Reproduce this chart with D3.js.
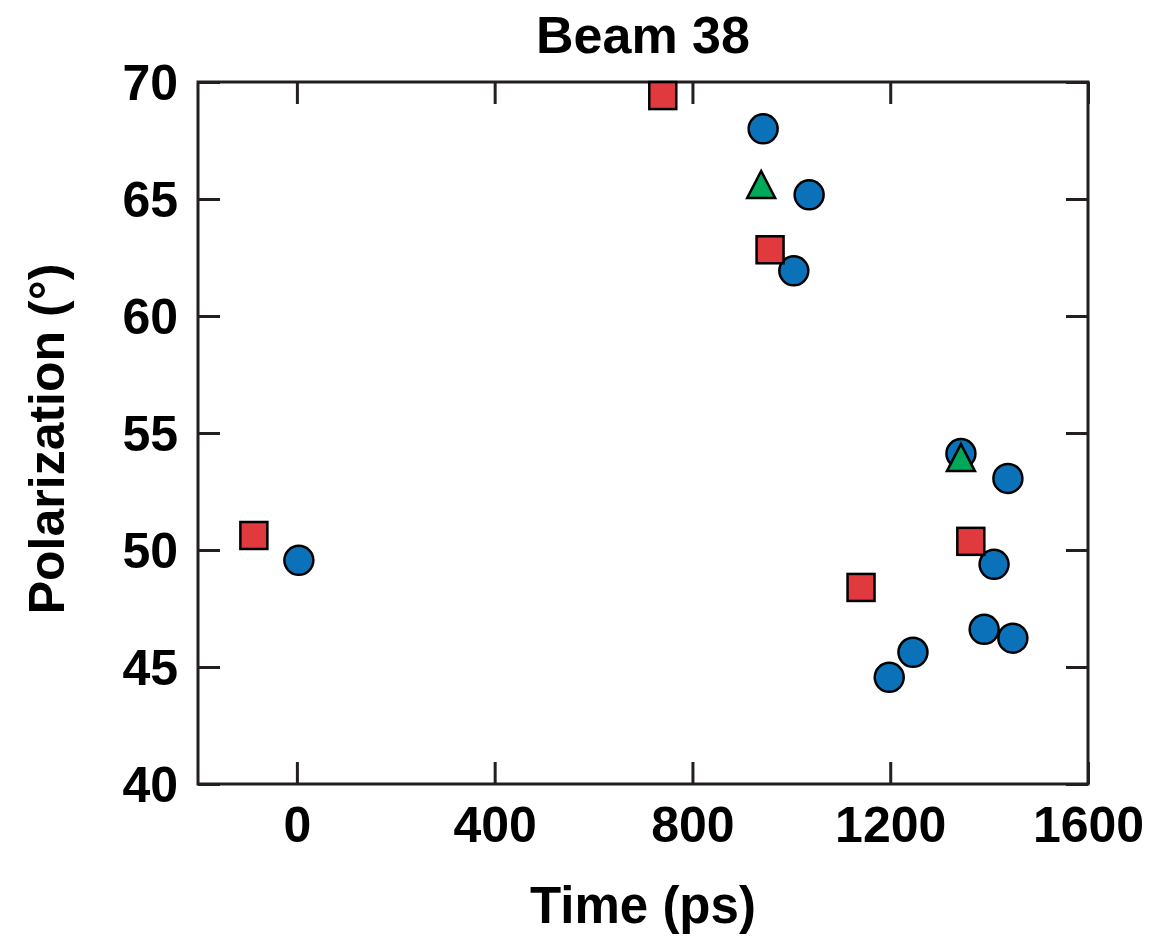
<!DOCTYPE html>
<html><head><meta charset="utf-8">
<script src="https://cdn.jsdelivr.net/npm/d3@7"></script>
<style>body{margin:0;background:#fff}svg{display:block}</style>
</head><body>
<svg id="c" width="1153" height="937"></svg>
<script>
const title = "Beam 38";
const xLabel = "Time (ps)";
const yLabel = "Polarization (°)";
const xTicks = [0, 400, 800, 1200, 1600];
const yTicks = [40, 45, 50, 55, 60, 65, 70];
const xDomain = [-200, 1600];
const yDomain = [40, 70];
// circles (blue)
const circleX = [4, 943, 1036, 1005, 1343, 1438, 1410, 1390, 1448, 1246, 1198];
const circleY = [49.56, 68.0, 65.18, 61.93, 54.12, 53.06, 49.39, 46.61, 46.23, 45.63, 44.56];
// squares (red)
const squareX = [-87, 740, 957, 1141, 1363];
const squareY = [50.62, 69.42, 62.83, 48.40, 50.37];
// triangles (green)
const triX = [939, 1343];
const triY = [65.62, 53.95];

const svg = d3.select("#c");
const L = 198, R = 1088, T = 82, B = 784;
const x = d3.scaleLinear().domain(xDomain).range([L, R]);
const y = d3.scaleLinear().domain(yDomain).range([B, T]);
const font = "'Liberation Sans', Arial, Helvetica, sans-serif";
const axisCol = "#231f20";
const tickLen = 22;

// frame
svg.append("rect").attr("x", L).attr("y", T).attr("width", R - L).attr("height", B - T)
  .attr("fill", "none").attr("stroke", axisCol).attr("stroke-width", 3);

// axes with inward ticks
const axB = d3.axisBottom(x).tickValues(xTicks).tickSize(-tickLen).tickPadding(22).tickFormat(d3.format("d"));
const axT = d3.axisTop(x).tickValues(xTicks).tickSize(-tickLen).tickFormat("");
const axL = d3.axisLeft(y).tickValues(yTicks).tickSize(-tickLen).tickPadding(20).tickFormat(d3.format("d"));
const axR = d3.axisRight(y).tickValues(yTicks).tickSize(-tickLen).tickFormat("");

function style(g) {
  g.select(".domain").remove();
  g.selectAll(".tick line").attr("stroke", axisCol).attr("stroke-width", 3);
  g.selectAll(".tick text").attr("fill", "#000").attr("font-family", font)
    .attr("font-weight", "bold").attr("font-size", 50);
}
svg.append("g").attr("transform", `translate(0,${B})`).call(axB).call(style)
  .selectAll(".tick text").attr("dy", "0.71em");
svg.append("g").attr("transform", `translate(0,${T})`).call(axT).call(style);
svg.append("g").attr("transform", `translate(${L},0)`).call(axL).call(style)
  .selectAll(".tick text").attr("dy", "0.35em");
svg.append("g").attr("transform", `translate(${R},0)`).call(axR).call(style);

// points
const circles = circleX.map((d, i) => ({x: d, y: circleY[i]}));
const squares = squareX.map((d, i) => ({x: d, y: squareY[i]}));
const tris = triX.map((d, i) => ({x: d, y: triY[i]}));

svg.append("g").selectAll("circle").data(circles).join("circle")
  .attr("cx", d => x(d.x)).attr("cy", d => y(d.y)).attr("r", 14.5)
  .attr("fill", "#0b72b9").attr("stroke", "#000").attr("stroke-width", 2.5);

const sq = 27;
svg.append("g").selectAll("rect").data(squares).join("rect")
  .attr("x", d => x(d.x) - sq / 2).attr("y", d => y(d.y) - sq / 2)
  .attr("width", sq).attr("height", sq)
  .attr("fill", "#e03a3e").attr("stroke", "#000").attr("stroke-width", 2.5);

const tw = 28, th = 27;
svg.append("g").selectAll("path").data(tris).join("path")
  .attr("d", d => {
    const cx = x(d.x), cy = y(d.y);
    return `M${cx},${cy - th / 2}L${cx + tw / 2},${cy + th / 2}L${cx - tw / 2},${cy + th / 2}Z`;
  })
  .attr("fill", "#00a85a").attr("stroke", "#000").attr("stroke-width", 2.5).attr("stroke-linejoin", "miter");

// texts
svg.append("text").attr("x", (L + R) / 2).attr("y", 53).attr("text-anchor", "middle")
  .attr("font-family", font).attr("font-weight", "bold").attr("font-size", 52).text(title);
svg.append("text").attr("x", (L + R) / 2).attr("y", 923).attr("text-anchor", "middle")
  .attr("font-family", font).attr("font-weight", "bold").attr("font-size", 51).text(xLabel);
svg.append("text").attr("transform", "translate(64,439) rotate(-90)").attr("text-anchor", "middle")
  .attr("font-family", font).attr("font-weight", "bold").attr("font-size", 50).text(yLabel);
</script>
</body></html>
